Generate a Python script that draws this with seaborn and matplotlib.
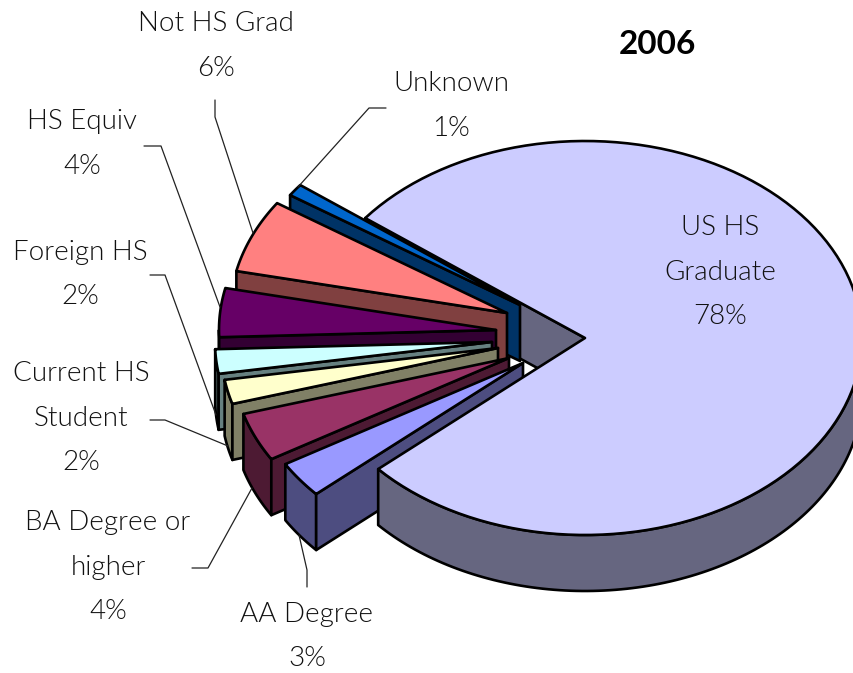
import numpy as np
import matplotlib
matplotlib.use("Agg")
import matplotlib.pyplot as plt
import seaborn as sns

sns.set_theme(style="white")
plt.rcParams['font.family'] = ['Lato', 'DejaVu Sans']

# slices in clockwise order, starting from the big one
categories = ['US HS\nGraduate', 'AA Degree', 'BA Degree or\nhigher', 'Current HS\nStudent',
              'Foreign HS', 'HS Equiv', 'Not HS Grad', 'Unknown']
values = [78, 3, 4, 2, 2, 4, 6, 1]
title = '2006'

colors = sns.color_palette(['#CCCCFF', '#9999FF', '#993366', '#FFFFCC',
                            '#CCFFFF', '#660066', '#FF8080', '#0066CC'])

# pie geometry, in pixels
cx, cy = 585, 338
rx, ry = 277, 197
depth = 56
start_angle = 142.5
explode_x = [0, -62, -76, -87, -93, -89, -78, -65]
explode_y = [0, 25, 20, 10, 4, -8, -25, -33]

# baseline of the first line of each label, and the leader line
label_xy = [(720, 235), (307, 622), (108, 530), (81, 381), (80, 260), (82, 129), (216, 31), (451, 91)]
line_gap = 44.5
leaders = [None,
           [(307, 587), (307, 570), (299, 535)],
           [(192, 568), (208, 568), (252, 488)],
           [(150, 420), (165, 420), (228, 446)],
           [(150, 275), (165, 275), (216, 415)],
           [(144, 146), (161, 146), (220, 307)],
           [(215, 100), (215, 117), (253, 233)],
           [(386, 108), (369, 108), (298, 187)]]


def arc(ax0, ay0, a1, a2):
    t = np.radians(np.linspace(a1, a2, 120))
    return np.column_stack([ax0 + rx * np.cos(t), ay0 - ry * np.sin(t)])


def down(pts):
    return pts + np.array([0, depth])


def poly(ax, pts, color):
    ax.fill(pts[:, 0], pts[:, 1], facecolor=color, edgecolor='black', linewidth=1.9, joinstyle='round')


fig = plt.figure(figsize=(8.54, 6.73), dpi=100)
ax = fig.add_axes([0, 0, 1, 1])
ax.set_xlim(0, 854)
ax.set_ylim(673, 0)
ax.axis('off')

sweeps = np.array(values) / sum(values) * 360
ends = start_angle - np.cumsum(sweeps)
starts = ends + sweeps
# the small slices come after the big one has gone past 0 degrees
ends[1:] += 360
starts[1:] += 360

# inner wall of the big slice is seen through the gap, goes behind the others
side0 = np.array(colors[0]) * .5
edge = arc(cx, cy, starts[0], starts[0])[:1]
apex0 = np.array([[cx, cy]])
poly(ax, np.vstack([apex0, edge, down(edge), down(apex0)]), side0)

# small slices from the back to the front
for i in range(len(values) - 1, 0, -1):
    ox = cx + explode_x[i]
    oy = cy + explode_y[i]
    side = np.array(colors[i]) * .5
    a = np.array([[ox, oy]])
    curve = arc(ox, oy, starts[i], ends[i])
    # outer wall only where the arc is on the lower half
    if starts[i] > 180:
        low = arc(ox, oy, starts[i], max(ends[i], 180))
        poly(ax, np.vstack([low, down(low)[::-1]]), side)
    poly(ax, np.vstack([a, curve[:1], down(curve[:1]), down(a)]), side)
    poly(ax, np.vstack([a, curve]), colors[i])

# big slice in front: outer wall only on the lower half
wall = arc(cx, cy, 0, ends[0])
poly(ax, np.vstack([wall, down(wall)[::-1]]), side0)
poly(ax, np.vstack([apex0, arc(cx, cy, starts[0], ends[0])]), colors[0])

for i, name in enumerate(categories):
    lines = name.split('\n') + [f'{values[i]}%']
    for j, line in enumerate(lines):
        ax.text(label_xy[i][0], label_xy[i][1] + j * line_gap, line, ha='center', va='baseline',
                fontsize=20, fontweight=300, color='#111111')
    if leaders[i]:
        xs, ys = zip(*leaders[i])
        ax.plot(xs, ys, color='#222222', linewidth=.9)

ax.text(657, 54, title, ha='center', va='baseline', fontsize=24, fontweight='bold', color='black')

fig.savefig('out.png', dpi=100)
